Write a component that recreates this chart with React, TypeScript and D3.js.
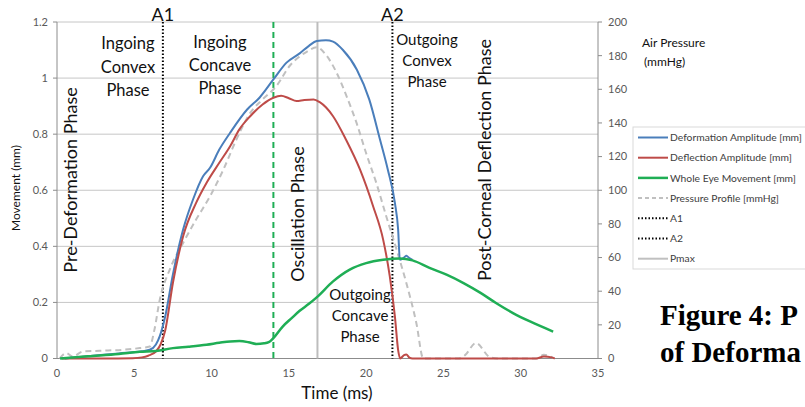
import React from "react";
import * as d3 from "d3";

// values: [time ms, movement mm] / [time ms, pressure mmHg]
const deformation: [number, number][] = [
  [0.5, 0], [2, 0.008], [4, 0.018], [5.5, 0.026], [6.0, 0.031], [6.4, 0.05], [6.65, 0.08], [7.0, 0.15],
  [7.5, 0.3], [8.16, 0.46], [8.8, 0.567], [9.45, 0.65], [9.9, 0.68], [10.5, 0.745], [11.2, 0.805],
  [12.3, 0.888], [13.1, 0.93], [14.0, 0.995], [14.85, 1.055], [15.7, 1.088], [16.3, 1.115], [16.8, 1.132],
  [17.4, 1.135], [17.86, 1.13], [18.5, 1.1], [19.4, 1.03], [20.2, 0.924], [20.9, 0.78], [21.4, 0.674],
  [21.86, 0.555], [22.07, 0.46], [22.18, 0.352], [22.4, 0.358], [22.6, 0.366], [22.8, 0.358], [23.0, 0.352],
];

const deflection: [number, number][] = [
  [0.3, 0], [3, 0], [4.9, 0.001], [5.5, 0.004], [5.9, 0.01], [6.4, 0.025], [6.7, 0.05], [7.0, 0.1],
  [7.5, 0.27], [8.16, 0.436], [9.0, 0.555], [9.67, 0.626], [10.5, 0.698], [11.2, 0.757], [11.8, 0.817],
  [12.5, 0.864], [13.3, 0.906], [14.0, 0.93], [14.5, 0.937], [15.0, 0.928], [15.5, 0.918], [16.0, 0.922],
  [16.6, 0.924], [17.0, 0.914], [17.86, 0.864], [18.7, 0.78], [19.6, 0.674], [20.45, 0.543], [21.1, 0.424],
  [21.53, 0.293], [21.86, 0.15], [22.07, 0.03], [22.2, 0], [22.45, 0.012], [22.6, 0.014], [22.8, 0.003],
  [23, 0], [31, 0], [31.5, 0.007], [32, 0.004], [32.2, 0],
];

const wholeEye: [number, number][] = [
  [0.2, 0], [2, 0.008], [4, 0.016], [5.35, 0.024], [6.4, 0.027], [7.5, 0.037], [8.5, 0.042], [9.67, 0.049],
  [10.5, 0.056], [11.2, 0.061], [11.8, 0.062], [12.4, 0.058], [12.9, 0.052], [13.4, 0.054], [13.7, 0.058],
  [14.0, 0.073], [14.6, 0.114], [15.2, 0.145], [15.7, 0.17], [16.3, 0.195], [16.8, 0.218], [17.86, 0.275],
  [18.94, 0.317], [20.0, 0.34], [21.1, 0.352], [22.18, 0.357], [23.0, 0.35], [24.1, 0.323], [25.2, 0.299],
  [26.3, 0.269], [27.4, 0.234], [28.4, 0.198], [29.5, 0.162], [30.6, 0.132], [32.1, 0.096],
];

const pressure: [number, number][] = [
  [0.17, 0], [0.6, 3.2], [1.0, 1.2], [1.7, 4.2], [2.5, 4.5], [3.3, 4.8], [4.3, 5.2], [5.35, 6.2], [6.0, 7.1],
  [6.3, 17], [6.65, 35], [7.3, 53], [8.16, 68.7], [9.0, 82.6], [9.9, 96.4], [10.75, 112], [11.6, 130],
  [12.5, 146], [13.3, 154], [14.2, 162], [15.06, 174], [16.1, 182], [16.8, 185], [17.44, 180], [18.08, 170],
  [18.73, 156], [19.38, 140], [20.0, 122], [20.67, 104], [21.3, 84.5], [21.97, 64.7], [22.6, 44.9],
  [23.25, 21], [23.7, 0], [26.0, 0], [26.4, 2], [27.1, 9.2], [28.0, 0.8], [28.5, 0], [31.0, 0], [31.5, 2.2],
  [32.1, 0.5],
];

const markerTimes = { a1: 6.85, a2: 21.7, pmax: 16.85, green: 14.0 };

const xTicks = [0, 5, 10, 15, 20, 25, 30, 35];
const leftTicks = [0, 0.2, 0.4, 0.6, 0.8, 1, 1.2];
const rightTicks = [0, 20, 40, 60, 80, 100, 120, 140, 160, 180, 200];

const legendItems = [
  { label: "Deformation Amplitude [mm]", color: "#4a7ebb", dash: "", width: 2 },
  { label: "Deflection Amplitude [mm]", color: "#be4b48", dash: "", width: 2 },
  { label: "Whole Eye Movement [mm]", color: "#1fae55", dash: "", width: 2.5 },
  { label: "Pressure Profile [mmHg]", color: "#c0c0c0", dash: "4,3", width: 2 },
  { label: "A1", color: "#000", dash: "1.5,2", width: 2 },
  { label: "A2", color: "#000", dash: "1.5,2", width: 2 },
  { label: "Pmax", color: "#c0c0c0", dash: "", width: 2 },
];

// the caption is cut off at the page edge in the source image
const captionLines = ["Figure 4: P", "of Deforma"];

const W = 805;
const H = 407;
const left = 57;
const right = 598;
const top = 22;
const bottom = 358.5;
const font = "Lato, 'Open Sans', sans-serif";

export default function App() {
  const x = d3.scaleLinear().domain([0, 35]).range([left, right]);
  const y = d3.scaleLinear().domain([0, 1.2]).range([bottom, top]);
  const yp = d3.scaleLinear().domain([0, 200]).range([bottom, top]);

  const mmLine = d3.line<[number, number]>().x((d) => x(d[0])).y((d) => y(d[1])).curve(d3.curveMonotoneX);
  const pLine = d3.line<[number, number]>().x((d) => x(d[0])).y((d) => yp(d[1])).curve(d3.curveMonotoneX);

  const phase = (lines: string[], cx: number, cy: number, size: number, gap: number) => (
    <text textAnchor="middle" fontSize={size} fontFamily={font} fill="#111">
      {lines.map((l, i) => (
        <tspan key={i} x={cx} y={cy + i * gap}>{l}</tspan>
      ))}
    </text>
  );

  const vertical = (label: string, cx: number, cy: number) => (
    <text transform={`translate(${cx},${cy}) rotate(-90)`} textAnchor="middle" dominantBaseline="central"
      fontSize={18} fontFamily={font} fill="#111">{label}</text>
  );

  return (
    <svg width={W} height={H} style={{ position: "absolute", left: 0, top: 0, background: "#fff" }}>
      {/* gridlines */}
      {leftTicks.filter((t) => t > 0).map((t) => (
        <line key={t} x1={left} x2={right} y1={y(t)} y2={y(t)} stroke="#c6c6c6" strokeWidth={1} />
      ))}
      {/* axes */}
      <line x1={left} x2={left} y1={top} y2={bottom} stroke="#8c8c8c" />
      <line x1={left} x2={right} y1={bottom} y2={bottom} stroke="#8c8c8c" />
      <line x1={right} x2={right} y1={top} y2={bottom} stroke="#8c8c8c" />
      {leftTicks.map((t) => (
        <g key={t}>
          <line x1={left - 4} x2={left} y1={y(t)} y2={y(t)} stroke="#8c8c8c" />
          <text x={left - 9} y={y(t)} dy="0.35em" textAnchor="end" fontSize={11} fontFamily={font} fill="#595959">{d3.format("~g")(t)}</text>
        </g>
      ))}
      {rightTicks.map((t) => (
        <g key={t}>
          <line x1={right} x2={right + 4} y1={yp(t)} y2={yp(t)} stroke="#8c8c8c" />
          <text x={right + 10} y={yp(t)} dy="0.35em" fontSize={11} fontFamily={font} fill="#595959">{t}</text>
        </g>
      ))}
      {xTicks.map((t) => (
        <text key={t} x={x(t)} y={377} textAnchor="middle" fontSize={11} fontFamily={font} fill="#595959">{t}</text>
      ))}

      {/* marker lines */}
      <line x1={x(markerTimes.pmax)} x2={x(markerTimes.pmax)} y1={top} y2={bottom} stroke="#bdbdbd" strokeWidth={2} />
      <line x1={x(markerTimes.a1)} x2={x(markerTimes.a1)} y1={top} y2={bottom} stroke="#000" strokeWidth={2} strokeDasharray="1.5,2" />
      <line x1={x(markerTimes.a2)} x2={x(markerTimes.a2)} y1={top} y2={bottom} stroke="#000" strokeWidth={2} strokeDasharray="1.5,2" />
      <line x1={x(markerTimes.green)} x2={x(markerTimes.green)} y1={top} y2={bottom} stroke="#1fae55" strokeWidth={2} strokeDasharray="6,4" />

      {/* series */}
      <path d={pLine(pressure) ?? ""} fill="none" stroke="#c0c0c0" strokeWidth={2} strokeDasharray="6,4" />
      <path d={mmLine(deformation) ?? ""} fill="none" stroke="#4a7ebb" strokeWidth={2} />
      <path d={mmLine(deflection) ?? ""} fill="none" stroke="#be4b48" strokeWidth={2} />
      <path d={mmLine(wholeEye) ?? ""} fill="none" stroke="#1fae55" strokeWidth={2.5} />

      {/* phase labels */}
      <text x={x(markerTimes.a1)} y={21} textAnchor="middle" fontSize={18} fontFamily={font} fill="#111">A1</text>
      <text x={x(markerTimes.a2)} y={21} textAnchor="middle" fontSize={18} fontFamily={font} fill="#111">A2</text>
      {phase(["Ingoing", "Convex", "Phase"], 128, 49, 16.5, 23.5)}
      {phase(["Ingoing", "Concave", "Phase"], 220, 48, 16.5, 23)}
      {phase(["Outgoing", "Convex", "Phase"], 427, 45, 15, 21)}
      {phase(["Outgoing", "Concave", "Phase"], 360, 300, 15, 21)}
      {vertical("Pre-Deformation Phase", 70, 180)}
      {vertical("Oscillation Phase", 297, 214)}
      {vertical("Post-Corneal Deflection Phase", 484, 160)}

      {/* axis titles */}
      <text transform={`translate(15,188) rotate(-90)`} textAnchor="middle" dominantBaseline="central" fontSize={12} fontFamily={font} fill="#111">Movement (mm)</text>
      <text x={337} y={399} textAnchor="middle" fontSize={17} fontFamily={font} fill="#111">Time (ms)</text>
      <text fontSize={12} fontFamily={font} fill="#111">
        <tspan x={642} y={47}>Air Pressure</tspan>
        <tspan x={644} y={66}>(mmHg)</tspan>
      </text>

      {/* legend */}
      <rect x={633} y={127} width={200} height={142} fill="#fff" stroke="#d9d9d9" />
      {legendItems.map((d, i) => (
        <g key={d.label} transform={`translate(0,${137.5 + i * 20.2})`}>
          <line x1={638} x2={668} y1={0} y2={0} stroke={d.color} strokeWidth={d.width} strokeDasharray={d.dash} />
          <text x={670} y={0} dy="0.35em" fontSize={10.3} fontFamily={font} fill="#404040">{d.label}</text>
        </g>
      ))}

      {/* caption */}
      <text fontSize={29} fontWeight="bold" fontFamily="'Liberation Serif', 'Times New Roman', serif" fill="#000">
        {captionLines.map((l, i) => (
          <tspan key={i} x={660} y={325 + i * 37}>{l}</tspan>
        ))}
      </text>
    </svg>
  );
}
